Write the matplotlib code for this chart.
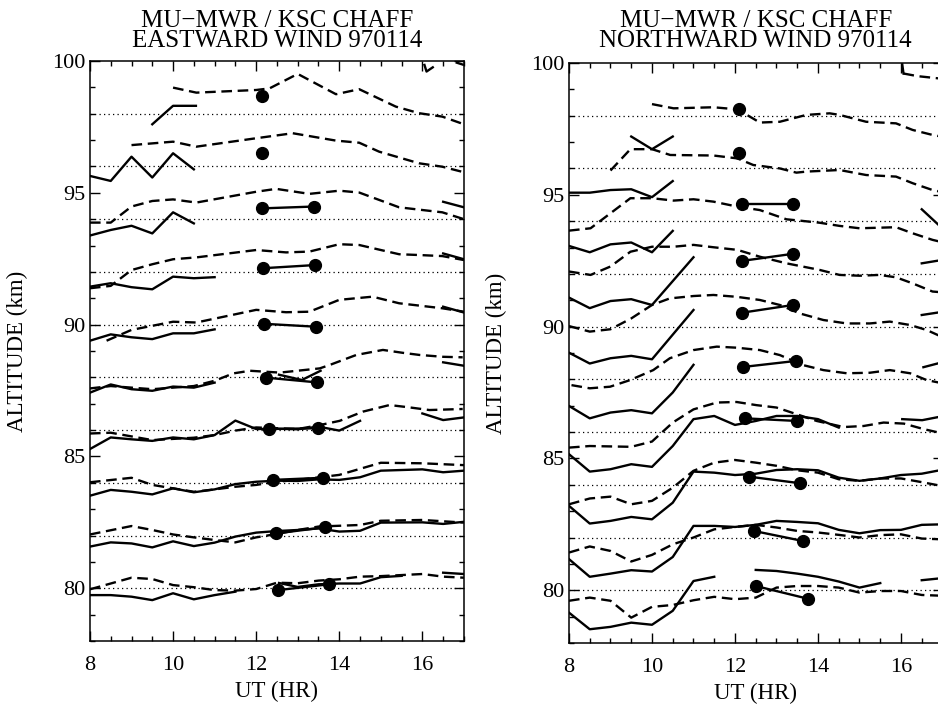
import matplotlib
matplotlib.use("Agg")
import matplotlib.pyplot as plt
from matplotlib.ticker import MultipleLocator

# baselines of the stacked profiles (km)
levels = [80, 82, 84, 86, 88, 90, 92, 94, 96, 98]

# ---- eastward wind: MU radar (solid) segments, (UT list, altitude list)
east_solid = [
    ([9.5, 10.0, 10.55], [97.6, 98.3, 98.3]),
    ([16.05, 16.1, 16.25], [99.85, 99.6, 99.76]),
    ([8, 8.5, 9, 9.5, 10, 10.5], [95.64, 95.45, 96.37, 95.58, 96.50, 95.89]),
    ([8, 8.5, 9, 9.5, 10, 10.5], [93.38, 93.59, 93.75, 93.46, 94.26, 93.84]),
    ([16.5, 17.0], [94.66, 94.45]),
    ([8, 8.5, 9, 9.5, 10, 10.5, 11], [91.44, 91.57, 91.42, 91.34, 91.82, 91.76, 91.80]),
    ([16.5, 17.0], [92.70, 92.48]),
    ([8, 8.5, 9, 9.5, 10, 10.5, 11], [89.39, 89.63, 89.52, 89.45, 89.67, 89.67, 89.82]),
    ([16.5, 17.0], [90.68, 90.46]),
    ([8, 8.5, 9, 9.5, 10, 10.5, 11], [87.42, 87.73, 87.55, 87.49, 87.65, 87.61, 87.80]),
    ([12.55, 13.1, 13.55], [88.1, 87.9, 88.25]),
    ([16.5, 17.0], [88.57, 88.44]),
    ([8, 8.5, 9, 9.5, 10, 10.5, 11, 11.5, 12, 12.5, 13, 13.5, 14, 14.5],
     [85.28, 85.72, 85.65, 85.59, 85.72, 85.65, 85.81, 86.36, 86.04, 86.05, 86.03, 86.13, 85.98, 86.35]),
    ([16.0, 16.5, 17.0], [86.63, 86.38, 86.48]),
    ([8, 8.5, 9, 9.5, 10, 10.5, 11, 11.5, 12, 12.5, 13, 13.5, 14, 14.5, 15, 16, 16.5, 17],
     [83.51, 83.73, 83.66, 83.56, 83.79, 83.64, 83.75, 83.95, 84.04, 84.08, 84.07, 84.13, 84.11, 84.21,
      84.46, 84.51, 84.40, 84.46]),
    ([8, 8.5, 9, 9.5, 10, 10.5, 11, 11.5, 12, 12.5, 13, 13.5, 14, 14.5, 15, 16, 16.5, 17],
     [81.58, 81.74, 81.70, 81.55, 81.78, 81.60, 81.73, 81.96, 82.11, 82.17, 82.21, 82.27, 82.15, 82.18,
      82.49, 82.50, 82.44, 82.52]),
    ([8, 8.5, 9, 9.5, 10, 10.5, 11, 11.5], [79.74, 79.74, 79.68, 79.55, 79.81, 79.58, 79.74, 79.87]),
    ([12.55, 13.0, 13.5, 14.0, 14.5, 15.0, 15.5], [80.2, 80.05, 80.15, 80.18, 80.18, 80.42, 80.47]),
    ([16.5, 17.0], [80.59, 80.54]),
]

# ---- eastward wind: meteor radar (dashed) segments
east_dashed = [
    ([16.8, 17.0], [99.95, 99.85]),
    ([10.0, 10.56, 12.0, 12.32, 13.0, 13.92, 14.48, 15.36, 15.92, 16.48, 17.0],
     [98.99, 98.80, 98.90, 98.96, 99.51, 98.74, 98.93, 98.27, 98.02, 97.89, 97.6]),
    ([9.0, 10.0, 10.56, 12.0, 12.88, 13.92, 14.48, 14.96, 15.92, 16.48, 17.0],
     [96.81, 96.94, 96.75, 97.07, 97.26, 96.98, 96.90, 96.56, 96.12, 95.99, 95.78]),
    ([8, 8.5, 9.0, 9.5, 10.0, 10.56, 12.0, 12.48, 13.28, 14.0, 14.48, 15.44, 16.48, 17.0],
     [93.87, 93.87, 94.48, 94.69, 94.75, 94.63, 95.04, 95.15, 94.96, 95.08, 95.01, 94.45, 94.26, 94.0]),
    ([8, 8.5, 9.0, 9.5, 10.0, 10.56, 12.0, 12.72, 13.28, 14.0, 14.48, 15.44, 15.92, 16.48, 17.0],
     [91.38, 91.47, 92.07, 92.29, 92.48, 92.55, 92.83, 92.74, 92.77, 93.05, 93.02, 92.67, 92.64, 92.6, 92.45]),
    ([8.4, 9.0, 10.0, 10.56, 12.0, 12.72, 13.28, 14.0, 14.8, 15.44, 16.48, 17.0],
     [89.39, 89.80, 90.11, 90.08, 90.56, 90.47, 90.49, 90.94, 91.06, 90.81, 90.62, 90.49]),
    ([8, 8.5, 9.5, 10.5, 11.0, 11.45, 11.85, 12.57, 13.53, 13.77, 14.41, 15.05, 15.53, 15.93, 16.49, 16.97],
     [87.58, 87.67, 87.55, 87.67, 87.87, 88.15, 88.25, 88.18, 88.34, 88.47, 88.85, 89.04, 88.93, 88.85,
      88.78, 88.76]),
    ([8, 8.5, 9.5, 10.5, 11, 11.5, 12, 13, 13.53, 14.01, 14.57, 15.21, 15.69, 16.17, 16.97],
     [85.87, 85.9, 85.62, 85.71, 85.81, 85.98, 86.10, 86.04, 86.19, 86.35, 86.70, 86.95, 86.86, 86.76, 86.80]),
    ([8, 9, 9.5, 10.5, 11, 11.5, 12, 12.5, 13, 14, 15, 16, 17],
     [84.02, 84.19, 83.92, 83.66, 83.75, 83.85, 83.92, 84.04, 84.11, 84.30, 84.76, 84.74, 84.67]),
    ([8, 9, 9.5, 10, 10.5, 11, 11.5, 12, 12.5, 13, 13.5, 14.5, 15, 16, 17],
     [82.04, 82.36, 82.21, 82.04, 81.93, 81.83, 81.74, 81.93, 82.06, 82.21, 82.34, 82.40, 82.56, 82.59, 82.49]),
    ([8, 9, 9.5, 10, 10.5, 11, 11.5, 12, 12.5, 13, 13.5, 14, 14.5, 15, 16, 16.5, 17],
     [79.96, 80.40, 80.35, 80.12, 80.04, 79.93, 79.91, 79.97, 80.21, 80.19, 80.29, 80.34, 80.44, 80.46,
      80.54, 80.44, 80.40]),
]

# ---- eastward wind: chaff (dots)
east_chaff_t = [[12.15], [12.15], [12.15, 13.4], [12.17, 13.42], [12.2, 13.45],
                [12.23, 13.46], [12.3, 13.5], [12.4, 13.6], [12.48, 13.65], [12.53, 13.75]]
east_chaff_z = [[98.67], [96.50], [94.41, 94.48], [92.14, 92.26], [90.03, 89.92],
                [87.99, 87.81], [86.04, 86.07], [84.11, 84.19], [82.08, 82.31], [79.93, 80.15]]

# ---- northward wind: MU radar (solid) segments
north_solid = [
    ([16.03, 16.06], [99.95, 99.6]),
    ([9.5, 10.0, 10.5], [97.21, 96.73, 97.21]),
    ([8, 8.5, 9, 9.5, 10, 10.5], [95.08, 95.08, 95.18, 95.21, 94.91, 95.52]),
    ([16.5, 17.0], [94.45, 93.72]),
    ([8, 8.5, 9, 9.5, 10, 10.5], [93.06, 92.82, 93.12, 93.19, 92.82, 93.63]),
    ([16.5, 17.0], [92.4, 92.53]),
    ([8, 8.5, 9, 9.5, 10, 11], [91.10, 90.70, 90.97, 91.04, 90.82, 92.63]),
    ([16.5, 17.0], [90.44, 90.56]),
    ([8, 8.5, 9, 9.5, 10, 11], [89.01, 88.60, 88.80, 88.89, 88.76, 90.63]),
    ([16.54, 17.0], [88.46, 88.65]),
    ([8, 8.5, 9, 9.5, 10, 10.5, 11], [86.99, 86.52, 86.74, 86.83, 86.71, 87.50, 88.55]),
    ([8, 8.5, 9, 9.5, 10, 10.5, 11, 11.5, 12, 12.5, 13, 13.5, 14, 14.5],
     [85.16, 84.50, 84.59, 84.78, 84.68, 85.47, 86.49, 86.61, 86.27, 86.42, 86.61, 86.61, 86.49, 86.17]),
    ([16.03, 16.51, 17.0], [86.49, 86.45, 86.6]),
    ([8, 8.5, 9, 9.5, 10, 10.5, 11, 11.5, 12, 12.5, 13, 13.5, 14, 14.5, 15, 15.5, 16, 16.5, 17],
     [83.20, 82.53, 82.63, 82.78, 82.69, 83.32, 84.50, 84.46, 84.37, 84.42, 84.56, 84.59, 84.55, 84.27,
      84.15, 84.24, 84.37, 84.42, 84.57]),
    ([8, 8.5, 9, 9.5, 10, 10.5, 11, 11.5, 12, 12.5, 13, 13.5, 14, 14.5, 15, 15.5, 16, 16.5, 17],
     [81.18, 80.51, 80.63, 80.76, 80.71, 81.26, 82.44, 82.44, 82.40, 82.48, 82.63, 82.59, 82.54, 82.29,
      82.16, 82.28, 82.29, 82.48, 82.5]),
    ([8, 8.5, 9, 9.5, 10, 10.5, 11, 11.5], [79.15, 78.52, 78.61, 78.77, 78.69, 79.22, 80.35, 80.51]),
    ([12.5, 13.0, 13.5, 14.0, 14.5, 15.0, 15.5], [80.77, 80.73, 80.63, 80.51, 80.33, 80.10, 80.27]),
    ([16.5, 17.0], [80.38, 80.46]),
]

# ---- northward wind: meteor radar (dashed) segments
north_dashed = [
    ([16.06, 16.4, 17.0], [99.6, 99.5, 99.4]),
    ([10.0, 10.52, 11.48, 12.06, 12.6, 13.08, 13.72, 14.28, 14.52, 15.16, 15.88, 16.28, 16.76, 17.0],
     [98.44, 98.28, 98.32, 98.24, 97.74, 97.77, 98.03, 98.09, 98.03, 97.77, 97.71, 97.46, 97.27, 97.2]),
    ([9.0, 9.48, 10.0, 10.44, 11.48, 12.06, 12.44, 13.08, 13.48, 13.72, 14.52, 15.16, 15.88, 16.28, 16.76, 17.0],
     [95.92, 96.73, 96.73, 96.51, 96.49, 96.38, 96.13, 96.0, 95.84, 95.88, 95.94, 95.75, 95.69, 95.44,
      95.18, 95.1]),
    ([8, 8.52, 9.0, 9.48, 10.0, 10.52, 11.0, 11.48, 12.06, 12.6, 13.24, 13.56, 14.04, 14.52, 15.0, 15.88,
      16.28, 16.76, 17.0],
     [93.64, 93.73, 94.30, 94.87, 94.87, 94.78, 94.83, 94.74, 94.55, 94.42, 94.07, 94.02, 93.94, 93.82,
      93.73, 93.77, 93.54, 93.29, 93.2]),
    ([8, 8.52, 9.0, 9.48, 10.0, 10.52, 11.0, 11.48, 12.06, 12.6, 13.24, 14.04, 14.52, 15.0, 15.48, 15.88,
      16.28, 16.76, 17.0],
     [92.09, 91.96, 92.28, 92.84, 93.03, 93.03, 93.10, 93.01, 92.91, 92.65, 92.40, 92.15, 91.96, 91.93,
      91.96, 91.87, 91.64, 91.33, 91.3]),
    ([8, 8.5, 9, 9.5, 10, 10.43, 11, 11.48, 12.04, 12.6, 13.08, 13.56, 14.13, 14.69, 15.25, 15.73, 16.22,
      16.62, 17.0],
     [90.02, 89.81, 89.90, 90.31, 90.82, 91.07, 91.16, 91.20, 91.13, 91.01, 90.82, 90.5, 90.25, 90.12,
      90.12, 90.19, 90.06, 89.87, 89.6]),
    ([8.06, 8.5, 8.99, 9.47, 10.03, 10.43, 11.0, 11.56, 12.04, 12.6, 13.08, 13.64, 14.13, 14.69, 15.25,
      15.73, 16.22, 16.62, 17.0],
     [87.78, 87.66, 87.72, 87.97, 88.35, 88.80, 89.11, 89.24, 89.20, 89.11, 88.92, 88.54, 88.35, 88.23,
      88.25, 88.35, 88.23, 87.97, 87.85]),
    ([8, 8.5, 9.5, 10, 10.5, 11, 11.56, 12.04, 12.52, 13.0, 13.48, 13.97, 14.62, 15.1, 15.58, 16.07,
      16.55, 17.0],
     [85.41, 85.47, 85.44, 85.64, 86.36, 86.86, 87.12, 87.14, 87.02, 86.93, 86.68, 86.42, 86.19, 86.23,
      86.36, 86.32, 86.11, 85.95]),
    ([8, 8.5, 9, 9.5, 10, 10.5, 11, 11.5, 12.0, 12.5, 13.0, 13.5, 14.0, 14.5, 15.0, 15.5, 16.0, 16.5, 17.0],
     [83.26, 83.48, 83.55, 83.26, 83.39, 83.89, 84.53, 84.84, 84.94, 84.84, 84.72, 84.55, 84.46, 84.21,
      84.15, 84.24, 84.24, 84.1, 83.95]),
    ([8, 8.5, 9, 9.5, 10, 10.5, 11, 11.5, 12, 12.5, 13, 13.5, 14, 14.5, 15, 15.5, 16, 16.5, 17],
     [81.43, 81.66, 81.49, 81.09, 81.34, 81.74, 82.0, 82.31, 82.40, 82.48, 82.38, 82.25, 82.19, 82.10,
      82.0, 82.09, 82.12, 81.96, 81.93]),
    ([8, 8.5, 9, 9.5, 10, 10.5, 11, 11.5, 12, 12.5, 13, 13.5, 14, 14.5, 15, 15.5, 16, 16.5, 17],
     [79.60, 79.72, 79.60, 78.96, 79.37, 79.44, 79.62, 79.75, 79.66, 79.72, 80.10, 80.16, 80.16, 80.10,
      79.91, 79.97, 79.97, 79.82, 79.79]),
]

# ---- northward wind: chaff (dots)
north_chaff_t = [[12.1], [12.1], [12.16, 13.39], [12.16, 13.39], [12.18, 13.4],
                 [12.2, 13.48], [12.25, 13.5], [12.33, 13.56], [12.45, 13.63], [12.5, 13.75]]
north_chaff_z = [[98.24], [96.60], [94.64, 94.64], [92.49, 92.76], [90.53, 90.82],
                 [88.47, 88.70], [86.52, 86.42], [84.31, 84.06], [82.25, 81.87], [80.16, 79.68]]

SERIF = "Liberation Serif"


def draw_panel(ax, solid, dashed, chaff_t, chaff_z, title2, top_px):
    for z in levels:
        ax.axhline(z, color="black", lw=0.9, ls=(0, (1, 2.6)), zorder=1)
    for xs, ys in solid:
        ax.plot(xs, ys, color="black", lw=1.7, zorder=2)
    for xs, ys in dashed:
        ax.plot(xs, ys, color="black", lw=1.7, dashes=(4.5, 2.4), zorder=2)
    for ts, zs in zip(chaff_t, chaff_z):
        ax.plot(ts, zs, "o-", color="black", ms=8.5, lw=1.7, zorder=3)

    ax.set_xlim(8, 17)
    ax.set_ylim(78, 100)
    ax.xaxis.set_major_locator(MultipleLocator(2))
    ax.xaxis.set_minor_locator(MultipleLocator(0.5))
    ax.yaxis.set_major_locator(MultipleLocator(5))
    ax.yaxis.set_minor_locator(MultipleLocator(1))
    ax.tick_params(which="both", direction="in", top=True, right=True, width=1.0)
    ax.tick_params(which="major", length=7)
    ax.tick_params(which="minor", length=3.5)
    ax.tick_params(axis="x", pad=11)
    ax.tick_params(axis="y", pad=3)
    for lab in ax.get_xticklabels() + ax.get_yticklabels():
        lab.set_fontfamily(SERIF)
        lab.set_fontsize(16)
    for sp in ax.spines.values():
        sp.set_linewidth(1.1)

    ax.set_xlabel("UT (HR)", fontsize=16.5, family=SERIF)
    ax.xaxis.set_label_coords(0.5, -0.068)
    ax.set_ylabel("ALTITUDE (km)", fontsize=16.5, family=SERIF)
    ax.yaxis.set_label_coords(-0.165, 0.5)

    h = 580.0
    ax.text(0.5, 1 + (top_px - 27) / h, "MU\u2212MWR / KSC CHAFF", transform=ax.transAxes,
            ha="center", va="baseline", fontsize=18, family=SERIF)
    ax.text(0.5, 1 + (top_px - 47) / h, title2, transform=ax.transAxes,
            ha="center", va="baseline", fontsize=18, family=SERIF)


fig = plt.figure(figsize=(9.38, 7.06), dpi=100)
ax_e = fig.add_axes([0.0959, 0.0921, 0.3987, 0.8215])
ax_n = fig.add_axes([0.6066, 0.0893, 0.3982, 0.8215])

draw_panel(ax_e, east_solid, east_dashed, east_chaff_t, east_chaff_z, "EASTWARD WIND 970114", 61)
draw_panel(ax_n, north_solid, north_dashed, north_chaff_t, north_chaff_z, "NORTHWARD WIND 970114", 63)

fig.savefig("out.png", dpi=100)
